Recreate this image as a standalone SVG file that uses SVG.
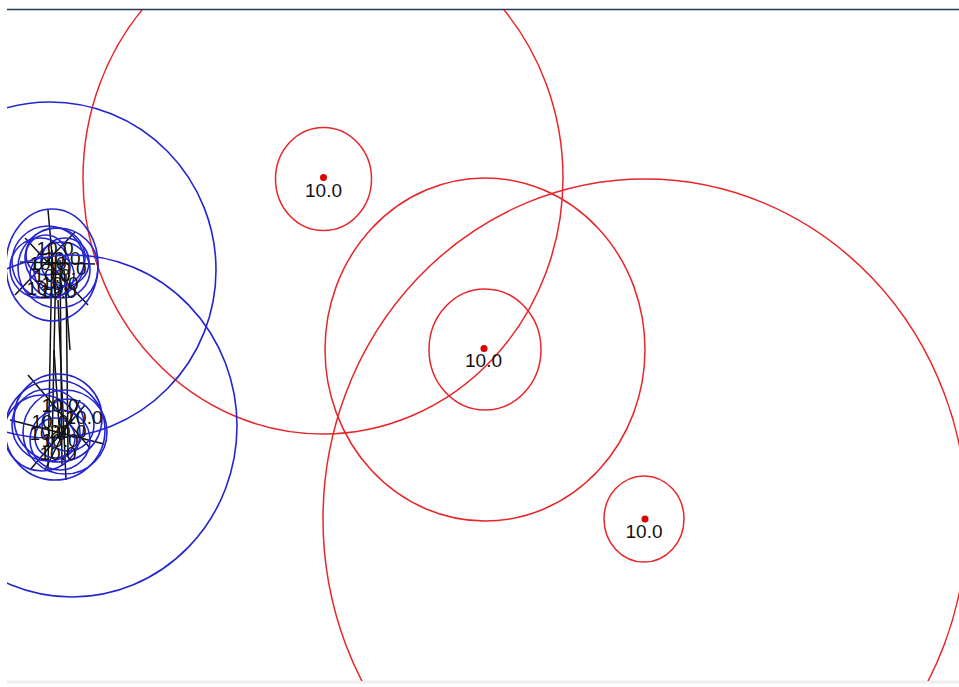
<svg xmlns="http://www.w3.org/2000/svg" width="959" height="687" viewBox="0 0 959 687">
<defs>
<style>
.r{fill:none;stroke:#e8262a;stroke-width:1.5}
.b{fill:none;stroke:#2424d0;stroke-width:1.6}
.e{stroke:#111;stroke-width:1.5;fill:none}
.dot{fill:#e00000}
.t{font-family:"Liberation Sans",Arial,sans-serif;font-size:19px;fill:#111;text-anchor:middle}
</style>
<clipPath id="c"><rect x="7" y="10" width="952" height="671"/></clipPath>
</defs>
<rect width="959" height="687" fill="#fff"/>
<line x1="7" y1="9.5" x2="959" y2="9.5" stroke="#22385a" stroke-width="1.5"/>
<line x1="7" y1="682" x2="959" y2="682" stroke="#efefef" stroke-width="3"/>
<g clip-path="url(#c)">
<g id="edges">
<line class="e" x1="48" y1="210" x2="56" y2="300"/>
<line class="e" x1="52" y1="250" x2="48" y2="470"/>
<line class="e" x1="56" y1="255" x2="52" y2="450"/>
<line class="e" x1="60" y1="260" x2="62" y2="465"/>
<line class="e" x1="64" y1="270" x2="70" y2="350"/>
<line class="e" x1="66" y1="275" x2="68" y2="455"/>
<line class="e" x1="58" y1="300" x2="66" y2="480"/>
<line class="e" x1="54" y1="350" x2="60" y2="440"/>
<line class="e" x1="20" y1="262" x2="95" y2="264"/>
<line class="e" x1="25" y1="238" x2="88" y2="305"/>
<line class="e" x1="15" y1="295" x2="75" y2="232"/>
<line class="e" x1="28" y1="375" x2="90" y2="448"/>
<line class="e" x1="10" y1="420" x2="104" y2="444"/>
<line class="e" x1="30" y1="470" x2="85" y2="405"/>
<line class="e" x1="45" y1="470" x2="80" y2="400"/>
</g>
<g id="n1">
<ellipse class="r" cx="323" cy="178" rx="240" ry="256"/>
<ellipse class="r" cx="323.5" cy="179" rx="48" ry="51.5"/>
<circle class="dot" cx="323.5" cy="177.5" r="3.5"/>
<text class="t" x="323.5" y="197">10.0</text>
</g>
<g id="n2">
<ellipse class="r" cx="485" cy="349.5" rx="160" ry="171.5"/>
<ellipse class="r" cx="485" cy="349.5" rx="56" ry="60.5"/>
<circle class="dot" cx="484" cy="348.5" r="3.5"/>
<text class="t" x="483.5" y="367">10.0</text>
</g>
<g id="n3">
<ellipse class="r" cx="645" cy="519" rx="322" ry="340"/>
<ellipse class="r" cx="644" cy="519" rx="40" ry="43"/>
<circle class="dot" cx="645" cy="519" r="3.5"/>
<text class="t" x="644" y="538">10.0</text>
</g>
<g id="n4">
<ellipse class="b" cx="50" cy="270" rx="166" ry="168"/>
<ellipse class="b" cx="52" cy="265" rx="46" ry="56"/>
<circle class="b" cx="58" cy="268" r="40"/>
<circle class="b" cx="48" cy="262" r="36"/>
<circle class="b" cx="55" cy="258" r="30"/>
<circle class="b" cx="62" cy="270" r="28"/>
<circle class="b" cx="52" cy="275" r="22"/>
<circle class="b" cx="46" cy="255" r="20"/>
<circle class="b" cx="65" cy="262" r="24"/>
<circle class="b" cx="40" cy="268" r="30"/>
<text class="t" x="55" y="255">10.0</text>
<text class="t" x="62" y="265">10.0</text>
<text class="t" x="48" y="270">10.0</text>
<text class="t" x="68" y="275">10.0</text>
<text class="t" x="52" y="282">10.0</text>
<text class="t" x="60" y="290">10.0</text>
<text class="t" x="45" y="295">10.0</text>
<text class="t" x="58" y="298">10.0</text>
</g>
<g id="n5">
<ellipse class="b" cx="72" cy="426" rx="165" ry="171"/>
<circle class="b" cx="55" cy="430" r="50"/>
<circle class="b" cx="65" cy="432" r="42"/>
<circle class="b" cx="48" cy="425" r="36"/>
<circle class="b" cx="60" cy="440" r="30"/>
<circle class="b" cx="42" cy="433" r="38"/>
<circle class="b" cx="68" cy="425" r="26"/>
<circle class="b" cx="55" cy="438" r="20"/>
<circle class="b" cx="58" cy="418" r="44"/>
<text class="t" x="60" y="412">10.0</text>
<text class="t" x="84" y="424">10.0</text>
<text class="t" x="50" y="428">10.0</text>
<text class="t" x="68" y="438">20.0</text>
<text class="t" x="48" y="440">10.0</text>
<text class="t" x="60" y="447">10.0</text>
<text class="t" x="58" y="460">10.0</text>
</g>
</g>
</svg>
